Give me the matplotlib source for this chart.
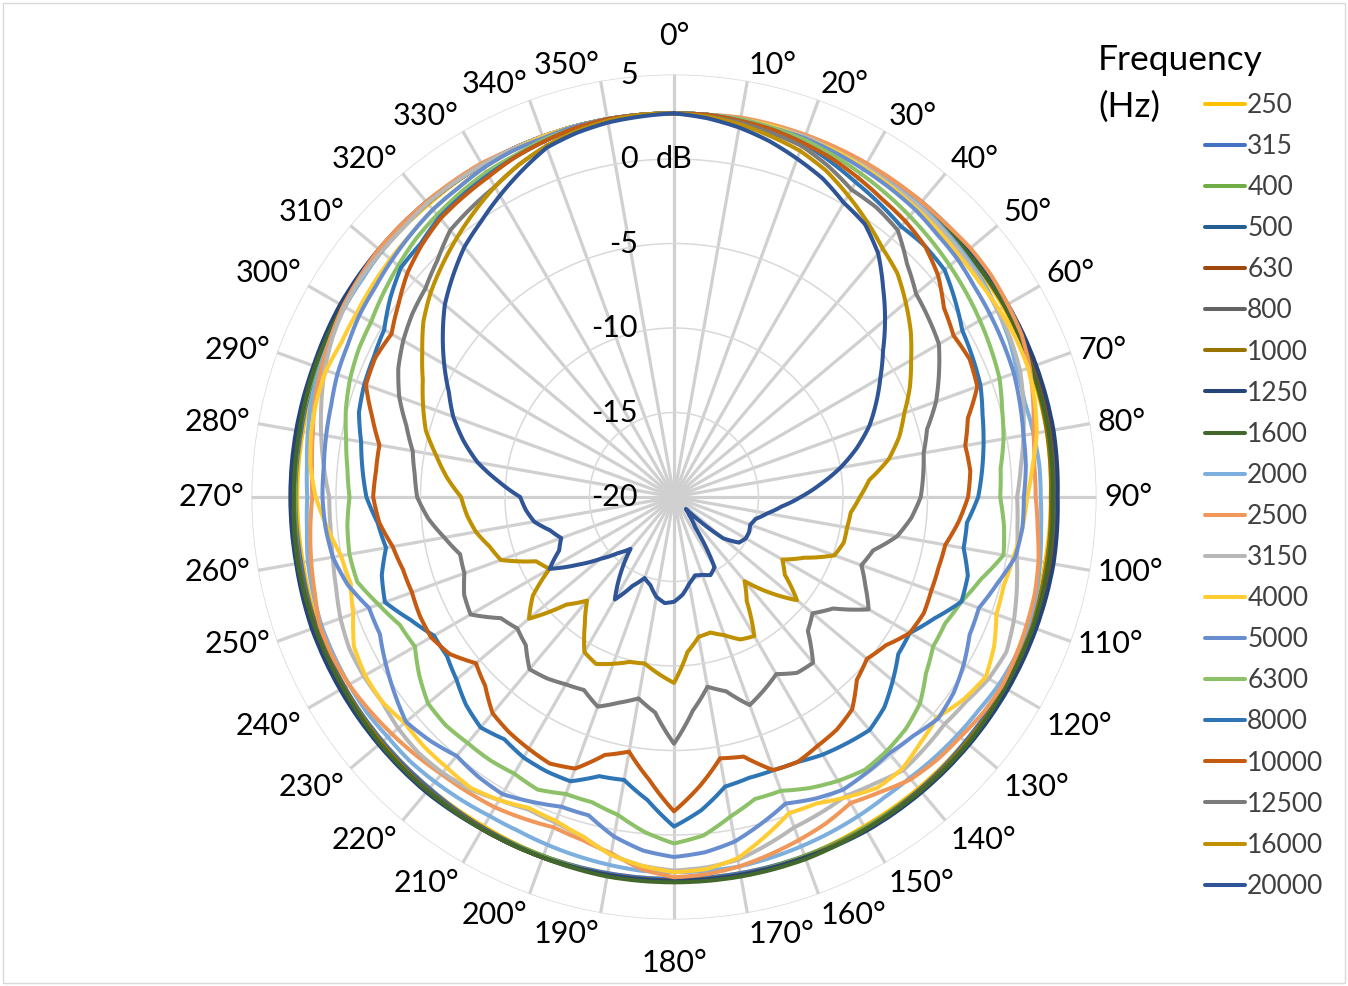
import numpy as np
import matplotlib.pyplot as plt
from matplotlib.patches import Rectangle
from matplotlib.transforms import ScaledTranslation

plt.rcParams['font.family'] = ['Lato', 'DejaVu Sans']

# angles (degrees, clockwise from top)
angles_coarse = np.arange(0, 360, 10)
angles_fine = np.arange(0, 360, 5)

freqs = ['250', '315', '400', '500', '630', '800', '1000', '1250', '1600', '2000',
         '2500', '3150', '4000', '5000', '6300', '8000', '10000', '12500', '16000', '20000']
colors = ['#FFC000', '#4472C4', '#70AD47', '#255E91', '#9E480E', '#636363', '#997300',
          '#264478', '#43682B', '#7CAFDD', '#F1975A', '#B7B7B7', '#FFCD33', '#698ED0',
          '#8CC168', '#2E75B6', '#C55A11', '#7B7B7B', '#BF9000', '#2F5597']

# low frequencies, every 10 deg (dB)
db_250 = [2.7, 2.7, 2.7, 2.6, 2.6, 2.5, 2.5, 2.4, 2.4, 2.3, 2.3, 2.4, 2.5, 2.5, 2.5, 2.5, 2.6, 2.6,
          2.6, 2.6, 2.6, 2.5, 2.5, 2.5, 2.5, 2.4, 2.3, 2.3, 2.3, 2.4, 2.5, 2.6, 2.6, 2.7, 2.7, 2.7]
db_315 = [2.7, 2.7, 2.7, 2.7, 2.6, 2.6, 2.6, 2.5, 2.5, 2.4, 2.4, 2.5, 2.5, 2.5, 2.6, 2.6, 2.6, 2.6,
          2.6, 2.6, 2.6, 2.6, 2.5, 2.5, 2.5, 2.5, 2.4, 2.4, 2.4, 2.5, 2.5, 2.6, 2.7, 2.7, 2.7, 2.7]
db_400 = [2.7, 2.7, 2.7, 2.7, 2.7, 2.6, 2.6, 2.6, 2.5, 2.5, 2.5, 2.5, 2.6, 2.6, 2.6, 2.6, 2.6, 2.7,
          2.7, 2.7, 2.6, 2.6, 2.6, 2.6, 2.5, 2.5, 2.5, 2.4, 2.5, 2.5, 2.6, 2.6, 2.7, 2.7, 2.7, 2.7]
db_500 = [2.7, 2.7, 2.7, 2.7, 2.7, 2.7, 2.6, 2.6, 2.6, 2.6, 2.6, 2.6, 2.6, 2.6, 2.7, 2.7, 2.7, 2.7,
          2.7, 2.7, 2.7, 2.6, 2.6, 2.6, 2.6, 2.6, 2.6, 2.5, 2.6, 2.6, 2.6, 2.7, 2.7, 2.7, 2.7, 2.7]
db_630 = [2.7, 2.7, 2.7, 2.7, 2.7, 2.7, 2.7, 2.6, 2.6, 2.6, 2.6, 2.6, 2.7, 2.7, 2.7, 2.7, 2.7, 2.7,
          2.7, 2.7, 2.7, 2.7, 2.6, 2.6, 2.6, 2.6, 2.6, 2.6, 2.6, 2.6, 2.7, 2.7, 2.7, 2.7, 2.7, 2.7]
db_800 = [2.7, 2.7, 2.7, 2.7, 2.6, 2.6, 2.6, 2.5, 2.5, 2.5, 2.5, 2.5, 2.6, 2.6, 2.6, 2.7, 2.7, 2.7,
          2.7, 2.7, 2.7, 2.6, 2.6, 2.6, 2.5, 2.5, 2.5, 2.5, 2.5, 2.6, 2.6, 2.6, 2.7, 2.7, 2.7, 2.7]
db_1000 = [2.7, 2.7, 2.7, 2.7, 2.7, 2.6, 2.6, 2.5, 2.4, 2.3, 2.4, 2.5, 2.6, 2.6, 2.7, 2.7, 2.7, 2.7,
           2.7, 2.7, 2.7, 2.7, 2.7, 2.6, 2.6, 2.6, 2.6, 2.5, 2.5, 2.6, 2.6, 2.7, 2.7, 2.7, 2.7, 2.7]
db_1250 = [2.7, 2.7, 2.7, 2.7, 2.8, 2.8, 2.8, 2.8, 2.8, 2.7, 2.8, 2.8, 2.8, 2.8, 2.8, 2.8, 2.7, 2.7,
           2.7, 2.7, 2.7, 2.7, 2.8, 2.8, 2.8, 2.8, 2.7, 2.7, 2.7, 2.7, 2.8, 2.8, 2.8, 2.7, 2.7, 2.7]
db_1600 = [2.7, 2.7, 2.7, 2.7, 2.7, 2.6, 2.6, 2.5, 2.5, 2.4, 2.5, 2.6, 2.6, 2.7, 2.7, 2.7, 2.8, 2.8,
           2.8, 2.8, 2.7, 2.7, 2.7, 2.7, 2.6, 2.6, 2.6, 2.5, 2.5, 2.6, 2.6, 2.7, 2.7, 2.7, 2.7, 2.7]

# higher frequencies, every 5 deg (dB)
db_2000 = [2.7, 2.7, 2.7, 2.7, 2.7, 2.7, 2.7, 2.6, 2.6, 2.5, 2.4, 2.3, 2.1, 1.9, 1.6, 1.5, 1.6, 1.7,
           1.7, 1.8, 2.0, 2.2, 2.3, 2.3, 2.2, 2.0, 1.9, 1.8, 1.7, 1.7, 1.8, 1.9, 2.0, 2.1, 2.2, 2.2,
           2.2, 2.2, 2.1, 2.0, 1.9, 1.8, 1.8, 1.9, 2.0, 2.1, 2.1, 2.2, 2.2, 2.2, 2.2, 2.1, 2.0, 1.8,
           1.7, 1.8, 2.0, 2.2, 2.3, 2.4, 2.5, 2.5, 2.6, 2.6, 2.7, 2.7, 2.7, 2.7, 2.7, 2.7, 2.7, 2.7]
db_2500 = [2.7, 2.7, 2.8, 2.8, 2.8, 2.8, 2.8, 2.8, 2.8, 2.8, 2.9, 2.9, 2.8, 2.7, 2.4, 2.0, 1.6, 1.4,
           1.4, 1.6, 1.9, 2.1, 2.2, 2.3, 2.4, 2.3, 2.1, 2.0, 1.8, 1.3, 0.9, 1.3, 1.6, 1.9, 2.2, 2.4,
           2.5, 2.1, 1.4, 1.0, 0.8, 1.0, 1.2, 1.3, 1.4, 1.6, 1.8, 2.0, 2.2, 2.3, 2.3, 2.0, 1.8, 1.6,
           1.4, 1.5, 1.7, 2.0, 2.2, 2.4, 2.6, 2.7, 2.8, 2.8, 2.8, 2.8, 2.8, 2.7, 2.7, 2.7, 2.7, 2.7]
db_3150 = [2.7, 2.7, 2.7, 2.7, 2.7, 2.6, 2.6, 2.5, 2.5, 2.4, 2.3, 2.2, 2.1, 2.0, 1.8, 1.4, 1.0, 0.6,
           0.3, 0.4, 0.6, 1.0, 1.4, 1.7, 1.5, 1.1, 0.9, 1.0, 1.1, 0.7, 0.4, 0.6, 0.8, 1.3, 1.8, 2.0,
           2.1, 1.9, 1.5, 0.8, 0.5, 0.4, 0.7, 1.1, 1.3, 1.4, 1.3, 1.1, 1.2, 1.2, 1.0, 0.7, 0.5, 0.4,
           0.4, 0.8, 1.2, 1.6, 2.0, 2.3, 2.5, 2.6, 2.6, 2.6, 2.7, 2.7, 2.7, 2.7, 2.7, 2.7, 2.7, 2.7]
db_4000 = [2.7, 2.7, 2.7, 2.7, 2.6, 2.6, 2.5, 2.4, 2.3, 2.2, 2.1, 2.1, 2.2, 2.3, 2.3, 2.1, 1.8, 1.3,
           0.9, 0.7, 0.4, 0.2, 0.3, 0.9, 1.3, 0.9, 0.3, 0.6, 1.0, 1.0, 0.5, 0.0, -0.1, 0.8, 1.7, 2.1,
           2.2, 1.9, 1.5, 0.8, 0.4, 0.3, 0.7, 1.0, 0.9, 0.9, 0.8, 1.1, 1.1, 0.9, 0.2, -0.2, 0.0, 0.6,
           1.2, 1.6, 1.8, 1.9, 1.9, 1.7, 1.7, 1.8, 1.9, 2.0, 2.2, 2.3, 2.5, 2.6, 2.7, 2.7, 2.7, 2.7]
db_5000 = [2.7, 2.7, 2.7, 2.6, 2.6, 2.5, 2.4, 2.3, 2.2, 2.0, 1.9, 1.7, 1.6, 1.5, 1.4, 1.2, 1.0, 0.9,
           0.7, 0.7, 0.5, -0.2, -0.8, -0.7, -0.2, 0.2, 0.4, 0.0, -0.2, -0.1, 0.0, -0.3, -0.7, 0.0, 0.7, 1.1,
           1.3, 1.0, 0.4, -0.5, -0.5, -0.1, 0.3, 0.2, 0.0, 0.4, 0.7, 0.2, -0.3, -0.8, -0.8, 0.0, 0.5, 0.7,
           0.8, 0.8, 0.9, 1.0, 1.2, 1.3, 1.5, 1.6, 1.8, 2.0, 2.2, 2.3, 2.5, 2.6, 2.6, 2.7, 2.7, 2.7]
db_6300 = [2.7, 2.7, 2.7, 2.6, 2.5, 2.3, 2.1, 1.9, 1.7, 1.5, 1.3, 1.1, 0.9, 0.7, 0.5, 0.1, -0.2, -0.6,
           -0.7, -0.4, -0.2, -1.2, -1.9, -2.3, -2.3, -1.8, -1.0, -0.6, -0.4, -0.3, -0.6, -1.0, -1.5, -1.5, -0.8, 0.1,
           0.5, -0.1, -0.9, -1.3, -1.3, -0.9, -1.1, -1.0, -1.0, -0.9, -1.0, -1.6, -2.3, -2.1, -1.4, -0.6, -0.5, -0.6,
           -0.8, -0.6, -0.3, 0.1, 0.4, 0.6, 0.7, 1.0, 1.3, 1.6, 1.8, 2.0, 2.2, 2.3, 2.5, 2.6, 2.7, 2.7]
db_8000 = [2.7, 2.7, 2.6, 2.5, 2.3, 1.9, 1.5, 1.2, 0.9, 1.0, 0.9, 0.3, -0.3, -0.5, -0.7, -1.1, -1.4, -1.7,
           -2.0, -2.6, -2.6, -2.0, -1.9, -3.0, -3.9, -3.8, -3.1, -2.4, -2.0, -2.2, -2.4, -2.7, -2.8, -2.8, -2.6, -1.4,
           -0.5, -2.0, -3.0, -2.9, -2.1, -2.1, -2.2, -2.5, -2.2, -2.6, -3.2, -3.6, -3.6, -2.8, -1.8, -2.1, -2.7, -2.4,
           -1.8, -1.5, -1.2, -0.7, -0.5, -0.4, -0.2, 0.5, 1.1, 1.2, 1.6, 1.8, 2.0, 2.2, 2.4, 2.6, 2.7, 2.7]
db_10000 = [2.7, 2.7, 2.6, 2.5, 2.3, 2.1, 1.8, 1.5, 1.3, 1.0, 0.4, -0.5, -0.9, -0.7, -0.9, -2.0, -2.5, -2.4,
            -2.6, -3.1, -3.7, -3.8, -3.8, -3.7, -3.9, -4.7, -5.1, -4.7, -3.6, -3.2, -3.0, -2.7, -2.8, -4.1, -4.3, -2.8,
            -1.4, -3.2, -4.7, -4.2, -2.9, -2.6, -2.8, -3.0, -3.3, -4.2, -4.7, -3.8, -3.4, -3.4, -3.5, -3.4, -3.1, -2.5,
            -2.2, -2.3, -2.3, -1.5, -0.6, -0.5, -0.7, -0.1, 0.6, 1.1, 1.5, 1.7, 1.9, 2.2, 2.4, 2.6, 2.7, 2.7]
db_12500 = [2.7, 2.6, 2.5, 2.3, 2.1, 1.6, 1.0, 0.9, 0.6, -0.5, -1.3, -1.6, -1.9, -2.7, -3.5, -4.5, -5.0, -5.2,
            -5.4, -5.9, -6.6, -7.8, -8.2, -7.5, -6.7, -8.5, -9.3, -8.8, -7.2, -7.3, -7.9, -7.4, -6.9, -8.1, -8.6, -7.3,
            -5.4, -7.2, -7.9, -7.4, -6.8, -7.4, -7.2, -6.9, -6.7, -7.6, -7.9, -7.5, -6.1, -6.3, -6.8, -6.9, -6.2, -5.4,
            -4.8, -4.6, -4.3, -3.6, -2.7, -2.0, -1.5, -1.1, -0.8, -0.2, 0.6, 0.9, 1.2, 1.7, 2.1, 2.4, 2.6, 2.7]
db_16000 = [2.7, 2.6, 2.4, 2.1, 1.8, 1.3, 0.6, -0.1, -0.8, -1.3, -2.1, -2.9, -3.8, -4.6, -5.5, -6.2, -7.1, -8.4,
            -9.0, -9.5, -9.6, -9.6, -9.9, -11.5, -12.6, -12.0, -10.5, -12.0, -13.5, -12.5, -10.5, -10.7, -11.3, -11.7, -11.6, -10.8,
            -9.0, -9.5, -10.0, -9.9, -9.5, -9.1, -9.4, -10.8, -12.0, -11.0, -8.8, -9.8, -11.5, -11.0, -9.1, -8.7, -8.1, -7.7,
            -7.4, -6.5, -5.7, -4.8, -4.2, -3.6, -2.8, -1.9, -1.2, -0.6, 0.0, 0.6, 1.2, 1.7, 2.1, 2.4, 2.6, 2.7]
db_20000 = [2.7, 2.5, 2.2, 1.8, 1.3, 0.8, 0.1, -0.3, -1.2, -2.5, -3.7, -4.9, -5.9, -6.8, -7.7, -8.8, -10.0, -11.3,
            -12.5, -13.6, -14.4, -15.0, -15.2, -15.1, -15.1, -15.3, -16.2, -19.0, -18.6, -17.8, -15.2, -14.9, -15.1, -15.2, -14.8, -14.2,
            -13.8, -13.7, -14.0, -14.6, -14.9, -14.2, -13.0, -14.5, -16.0, -15.3, -14.3, -13.0, -11.5, -12.5, -12.9, -12.4, -11.6, -11.2,
            -10.9, -9.6, -8.2, -7.1, -6.1, -5.3, -4.3, -3.3, -2.3, -1.5, -0.7, -0.1, 0.6, 1.3, 2.0, 2.3, 2.5, 2.6]

values = [db_250, db_315, db_400, db_500, db_630, db_800, db_1000, db_1250, db_1600,
          db_2000, db_2500, db_3150, db_4000, db_5000, db_6300, db_8000, db_10000,
          db_12500, db_16000, db_20000]

fig = plt.figure(figsize=(13.48, 9.86), dpi=100)
ax = fig.add_axes([0.18657, 0.06744, 0.62685, 0.857], projection='polar')
ax.set_theta_zero_location('N')
ax.set_theta_direction(-1)

lines = []
for lab, col, v in zip(freqs, colors, values):
    ang = angles_coarse if len(v) == len(angles_coarse) else angles_fine
    th = np.deg2rad(np.append(ang, 360))
    r = np.append(v, v[0])
    ln, = ax.plot(th, r, color=col, lw=2.9, label=lab,
                  solid_joinstyle='round', solid_capstyle='round')
    # let the polar transform bend each segment like the grid circles
    ln.get_path()._interpolation_steps = 24
    lines.append(ln)

ax.set_ylim(-20, 5)
ax.set_xticks(np.deg2rad(np.arange(0, 360, 10)))
ax.set_xticklabels([])
ax.set_yticks([-15, -10, -5, 0, 5])
ax.set_yticklabels([])
ax.xaxis.grid(True, color='#D0D0D0', lw=2.3)
ax.yaxis.grid(True, color='#D9D9D9', lw=1.1)
ax.spines['polar'].set_visible(False)
ax.set_axisbelow(True)
ax.tick_params(length=0)

# angle labels, placed like Excel (corner nearest the plot)
for deg in range(0, 360, 10):
    t = np.deg2rad(deg)
    s, c = np.sin(t), np.cos(t)
    k = 452 / 422.5 if deg in (0, 180) else 430 / 422.5
    ha = 'left' if s > 0.01 else ('right' if s < -0.01 else 'center')
    va = 'baseline' if c > 0.45 else ('top' if c < -0.45 else 'center')
    ax.text(0.5 + 0.5 * k * s, 0.5 + 0.5 * k * c, f'{deg}°', transform=ax.transAxes,
            ha=ha, va=va, fontsize=22, color='black', clip_on=False)

# radial labels
off = ax.transData + ScaledTranslation(-0.36, 0, fig.dpi_scale_trans)
for v in [-20, -15, -10, -5, 0, 5]:
    ax.text(0, v, str(v), transform=off, ha='right', va='center', fontsize=22, zorder=5)
ax.text(0, 0, 'dB', ha='center', va='center', fontsize=22, zorder=5)

# legend
fig.text(1098 / 1348, 1 - 60 / 986, 'Frequency', ha='left', va='center', fontsize=25.5)
fig.text(1098 / 1348, 1 - 107 / 986, '(Hz)', ha='left', va='center', fontsize=25.5)
ax.legend(lines, freqs, loc='upper left', bbox_to_anchor=(1205 / 1348, 1 - 93 / 986),
          bbox_transform=fig.transFigure, frameon=False, fontsize=19, handlelength=1.52,
          handletextpad=0.08, labelspacing=0.61, borderpad=0, borderaxespad=0,
          labelcolor='#404040')

fig.patches.append(Rectangle((0.002, 0.003), 0.996, 0.994, transform=fig.transFigure,
                             fill=False, ec='#D9D9D9', lw=1))

fig.savefig('out.png', dpi=100)
